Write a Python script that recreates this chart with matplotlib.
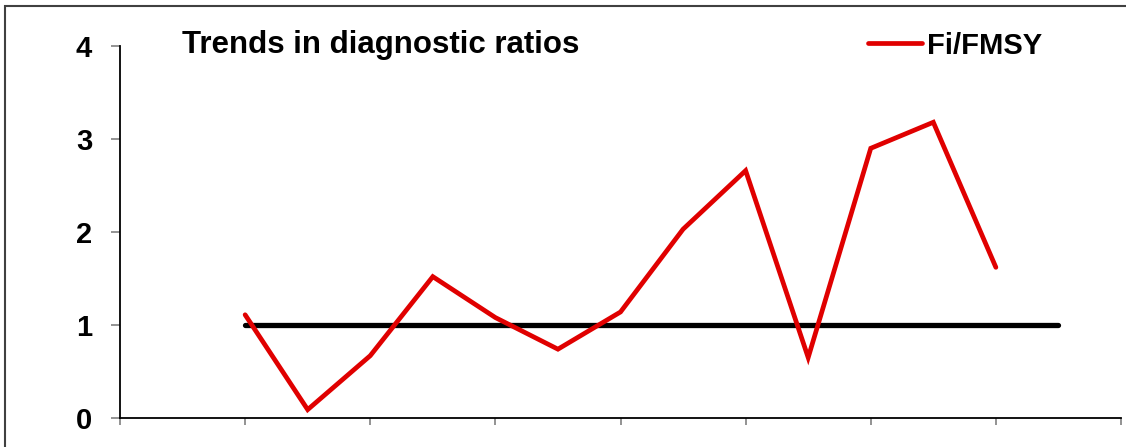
#!/usr/bin/env python3
import matplotlib
matplotlib.use('Agg')
import matplotlib.pyplot as plt
from matplotlib.patches import Rectangle
import numpy as np

plt.rcParams['font.family'] = ['Liberation Sans', 'DejaVu Sans']

#-----------
# DATA
#-----------
fi_fmsy = [1.11, 0.09, 0.67, 1.52, 1.08, 0.74, 1.14, 2.03, 2.66, 0.65, 2.90, 3.18, 1.62]
ref_line = [1.0] * 14
series_label = 'Fi/FMSY'
title = 'Trends in diagnostic ratios'

#-----------
# PLOT
#-----------
W, H = 1126, 447
fig = plt.figure(figsize=(W / 100, H / 100), dpi=100)
ax = fig.add_axes([120 / W, 1 - 418 / H, (1121 - 120) / W, (418 - 46) / H])

# outer frame (runs off right and bottom edges)
fig.patches.append(Rectangle((5 / W, -0.1), 1.2, 1 - 6 / H + 0.1, transform=fig.transFigure,
                             fill=False, edgecolor='#404040', linewidth=1.5))

ax.plot(np.arange(len(ref_line)), ref_line, color='black', linewidth=3.8, solid_capstyle='round')
line, = ax.plot(np.arange(len(fi_fmsy)), fi_fmsy, color='#e00000', linewidth=3.4,
                solid_capstyle='round', solid_joinstyle='miter', label=series_label)

ax.set_xlim(-2, 14)
ax.set_ylim(0, 4)
ax.set_xticks(np.arange(-2, 15, 2))
ax.set_xticklabels([])
ax.set_yticks([0, 1, 2, 3, 4])
ax.set_yticklabels(['0', '1', '2', '3', '4'], fontsize=21, fontweight='bold')

for side in ['top', 'right']:
  ax.spines[side].set_visible(False)
for side in ['left', 'bottom']:
  ax.spines[side].set_linewidth(1.3)
  ax.spines[side].set_color('black')
ax.tick_params(axis='y', length=6.5, width=1.2, color='#808080', pad=13.5)
ax.tick_params(axis='x', length=5, width=1.2, color='#808080')

fig.text(182 / W, 1 - 53 / H, title, fontsize=22.5, fontweight='bold', ha='left', va='baseline')

leg = ax.legend(handles=[line], loc='upper left', bbox_to_anchor=((856 - 120) / (1121 - 120), 1.07),
                frameon=False, prop={'size': 21, 'weight': 'bold'}, handlelength=1.85,
                handletextpad=0.2, borderaxespad=0)

fig.savefig('out.png', dpi=100)
